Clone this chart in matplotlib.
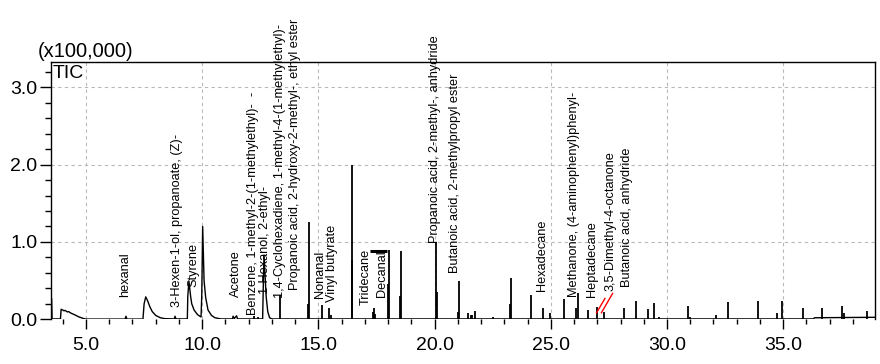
import matplotlib
matplotlib.use("Agg")
import matplotlib.pyplot as plt
from matplotlib.ticker import MultipleLocator

plt.rcParams['font.family'] = ['Liberation Sans', 'DejaVu Sans']

# continuous trace (baseline + broad peaks)
trace_t = [3.48, 3.52, 3.54, 3.90, 3.93, 4.00, 4.05, 4.10, 4.20, 4.25, 4.35, 4.50, 4.70, 4.90, 5.00,
           6.68, 6.72, 6.76, 7.45, 7.50, 7.57, 7.65, 7.75, 7.85, 8.00, 8.20, 8.40, 8.80, 8.83, 8.87,
           9.36, 9.38, 9.43, 9.50, 9.55, 9.65, 9.80, 9.95, 9.98, 10.02, 10.08, 10.15, 10.25, 10.40,
           10.55, 10.80, 11.30, 11.33, 11.38, 11.48, 11.52, 12.60, 12.64, 12.66, 12.70, 12.75, 12.82,
           12.90, 13.00, 36.30, 36.35, 38.95]
trace_y = [0.005, 0.27, 0.005, 0.005, 0.13, 0.12, 0.11, 0.115, 0.095, 0.10, 0.08, 0.06, 0.03, 0.01, 0.003,
           0.003, 0.04, 0.003, 0.003, 0.20, 0.29, 0.24, 0.16, 0.10, 0.05, 0.02, 0.008, 0.005, 0.04, 0.005,
           0.005, 0.30, 0.49, 0.30, 0.20, 0.12, 0.06, 0.03, 0.30, 1.20, 0.50, 0.28, 0.12, 0.05,
           0.02, 0.005, 0.005, 0.04, 0.01, 0.045, 0.005, 0.005, 0.60, 0.83, 0.60, 0.30, 0.10,
           0.02, 0.005, 0.005, 0.02, 0.026]

# sharp peaks
peak_rt = [12.23, 12.40, 13.35, 14.55, 14.61, 15.14, 15.46, 15.55, 16.43, 16.45, 17.35, 17.40, 17.45,
           18.00, 18.02, 18.50, 18.54, 20.06, 20.10, 21.00, 21.06, 21.42, 21.55, 21.62, 21.74, 22.50,
           23.25, 23.29, 24.13, 24.65, 24.96, 25.58, 26.10, 26.16, 26.61, 26.97, 27.29, 28.16, 28.65,
           29.17, 29.42, 29.65, 30.89, 31.00, 32.13, 32.64, 33.90, 34.75, 34.97, 35.84, 36.68,
           37.52, 37.60, 38.60]
peak_h = [0.04, 0.03, 0.31, 0.20, 1.26, 0.185, 0.14, 0.06, 1.99, 0.77, 0.10, 0.14, 0.07,
          0.45, 0.90, 0.30, 0.88, 0.98, 0.35, 0.10, 0.49, 0.08, 0.06, 0.05, 0.11, 0.03,
          0.20, 0.53, 0.31, 0.15, 0.085, 0.26, 0.15, 0.34, 0.12, 0.155, 0.10, 0.14, 0.24,
          0.13, 0.21, 0.03, 0.17, 0.03, 0.056, 0.22, 0.24, 0.08, 0.24, 0.14, 0.14,
          0.17, 0.08, 0.11]

label_names = ["hexanal", "3-Hexen-1-ol, propanoate, (Z)-", "Styrene", "Acetone",
               "Benzene, 1-methyl-2-(1-methylethyl)-  -", "1-Hexanol, 2-ethyl-",
               "1,4-Cyclohexadiene, 1-methyl-4-(1-methylethyl)-",
               "Propanoic acid, 2-hydroxy-2-methyl-, ethyl ester", "Nonanal", "Vinyl butyrate",
               "Tridecane", "Decanal", "Propanoic acid, 2-methyl-, anhydride",
               "Butanoic acid, 2-methylpropyl ester", "Hexadecane",
               "Methanone, (4-aminophenyl)phenyl-", "Heptadecane", "3,5-Dimethyl-4-octanone",
               "Butanoic acid, anhydride"]
label_rt = [6.68, 8.92, 9.62, 11.45, 12.20, 12.70, 13.35, 14.00, 15.06, 15.60,
            17.05, 17.74, 20.02, 20.88, 24.61, 26.00, 26.76, 27.55, 28.28]
label_y = [0.29, 0.163, 0.42, 0.29, 0.056, 0.33, 0.27, 0.38, 0.27, 0.22,
           0.185, 0.29, 0.99, 0.60, 0.36, 0.29, 0.29, 0.36, 0.42]

# red leader lines
lead_t = [[26.97, 27.33], [27.18, 27.66]]
lead_y = [[0.085, 0.27], [0.085, 0.335]]

# black bar over Decanal
bar_t = [17.22, 17.94]
bar_y = [0.88, 0.88]

fig = plt.figure(figsize=(8.8, 3.64), dpi=100)
ax = fig.add_axes([0.0576, 0.1228, 0.9367, 0.7077])

ax.plot(trace_t, trace_y, color="black", lw=1)
ax.vlines(peak_rt, 0, peak_h, color="black", lw=1.3)
ax.plot(bar_t, bar_y, color="black", lw=2.2, solid_capstyle="butt")
for tt, yy in zip(lead_t, lead_y):
    ax.plot(tt, yy, color="red", lw=1)

for name, t, y in zip(label_names, label_rt, label_y):
    ax.text(t, y, name, rotation=90, ha="center", va="bottom", fontsize=9.2)

ax.set_xlim(3.48, 38.95)
ax.set_ylim(0, 3.33)
ax.xaxis.set_major_locator(MultipleLocator(5))
ax.xaxis.set_minor_locator(MultipleLocator(1))
ax.yaxis.set_major_locator(MultipleLocator(1))
ax.yaxis.set_minor_locator(MultipleLocator(0.2))
ax.xaxis.set_major_formatter(plt.FormatStrFormatter("%.1f"))
ax.yaxis.set_major_formatter(plt.FormatStrFormatter("%.1f"))
ax.tick_params(axis="x", which="major", length=7.5, width=1, labelsize=14, pad=5)
ax.tick_params(axis="x", which="minor", length=3.6, width=1)
ax.tick_params(axis="y", which="major", length=8.2, width=1, labelsize=14, pad=1.5)
ax.tick_params(axis="y", which="minor", length=4.6, width=1)
ax.grid(True, which="major", color="#b8b8b8", ls=(0, (3, 3)), lw=0.8)
ax.set_axisbelow(True)
ax.spines["bottom"].set_visible(False)
for s in ["left", "top", "right"]:
    ax.spines[s].set_linewidth(1)

fig.text(0.0424, 0.8426, "(x100,000)", fontsize=14.5, ha="left", va="baseline")
fig.text(0.0599, 0.7865, "TIC", fontsize=14, ha="left", va="baseline")

fig.savefig("out.png", dpi=100)
